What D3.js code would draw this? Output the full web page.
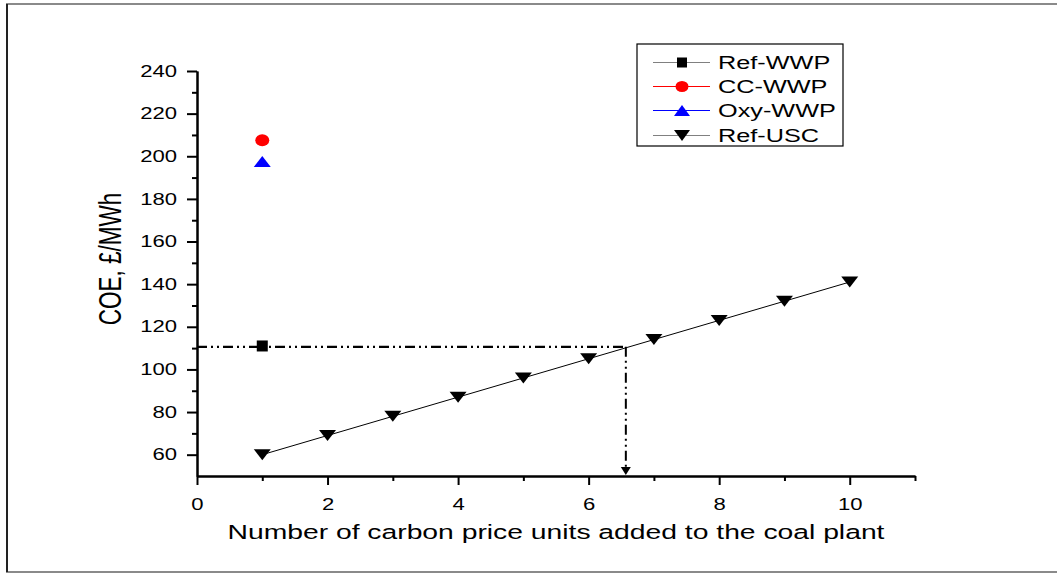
<!DOCTYPE html>
<html>
<head>
<meta charset="utf-8">
<script src="https://cdn.jsdelivr.net/npm/d3@7"></script>
<style>
  body { margin: 0; background: #fff; }
  text { font-family: "Liberation Sans", Arial, sans-serif; fill: #000; }
</style>
</head>
<body>
<div id="chart"></div>
<script>
// data
var units = [1, 2, 3, 4, 5, 6, 7, 8, 9, 10];
var refUSC = [60, 69, 78, 87, 96, 105, 114, 123, 132, 141];
var refWWP = [{x: 1, y: 111}];
var ccWWP = [{x: 1, y: 207.5}];
var oxyWWP = [{x: 1, y: 197.5}];
var crossing = {x: 6.57, y: 110.6};
var legendNames = ["Ref-WWP", "CC-WWP", "Oxy-WWP", "Ref-USC"];
var xTicks = [0, 2, 4, 6, 8, 10];
var yTicks = [60, 80, 100, 120, 140, 160, 180, 200, 220, 240];

var svgWidth = 1057;
var svgHeight = 574;
var stretch = 1.38; // the original picture is widened, text included

var svg = d3.select("#chart")
  .append("svg")
  .attr("width", svgWidth)
  .attr("height", svgHeight);

// page frame
svg.append("rect")
  .attr("x", 7).attr("y", 4)
  .attr("width", 1060).attr("height", 568)
  .attr("fill", "none")
  .attr("stroke", "#8a8a8a")
  .attr("stroke-width", 2);
svg.append("line")
  .attr("x1", 7).attr("x2", 7).attr("y1", 4).attr("y2", 572)
  .attr("stroke", "#222").attr("stroke-width", 2);

// scales
var x = d3.scaleLinear().domain([0, 11]).range([197, 915]);
var y = d3.scaleLinear().domain([50, 240]).range([476, 71]);

// axes: major + minor ticks
var xAxis = svg.append("g").attr("transform", "translate(0,476)");
xAxis.call(d3.axisBottom(x).tickValues(xTicks).tickSize(9).tickSizeOuter(0).tickFormat(d3.format("d")));
xAxis.append("g").call(d3.axisBottom(x).tickValues([1, 3, 5, 7, 9, 11]).tickSize(5).tickSizeOuter(0).tickFormat(""));

var yAxis = svg.append("g").attr("transform", "translate(197,0)");
yAxis.call(d3.axisLeft(y).tickValues(yTicks).tickSize(10).tickSizeOuter(0).tickFormat(d3.format("d")));
yAxis.append("g").call(d3.axisLeft(y).tickValues([70, 90, 110, 130, 150, 170, 190, 210, 230]).tickSize(5).tickSizeOuter(0).tickFormat(""));

svg.selectAll(".domain").attr("stroke", "#000").attr("stroke-width", 2);
svg.selectAll(".tick line").attr("stroke", "#000").attr("stroke-width", 2);
svg.selectAll(".tick text")
  .style("font-size", "16px")
  .style("font-family", "'Liberation Sans', Arial, sans-serif")
  .attr("transform", "scale(" + stretch + ",1)");
xAxis.selectAll(".tick text").attr("dy", "1.35em");
yAxis.selectAll(".tick text").attr("x", -14.5);
xAxis.select("g").select(".domain").remove();
yAxis.select("g").select(".domain").remove();

// axis titles
svg.append("text")
  .attr("transform", "translate(556,539) scale(" + stretch + ",1)")
  .attr("text-anchor", "middle")
  .style("font-size", "20.5px")
  .text("Number of carbon price units added to the coal plant");

svg.append("text")
  .attr("transform", "translate(121,259) scale(" + stretch + ",1) rotate(-90)")
  .attr("text-anchor", "middle")
  .style("font-size", "22.5px")
  .text("COE, \u00a3/MWh");

// dash-dot-dot guide lines
var guide = "10,4,2,4,2,4";
svg.append("line")
  .attr("x1", x(0)).attr("x2", x(crossing.x))
  .attr("y1", y(crossing.y)).attr("y2", y(crossing.y))
  .attr("stroke", "#000").attr("stroke-width", 2.2)
  .attr("stroke-dasharray", guide);
svg.append("line")
  .attr("x1", x(crossing.x)).attr("x2", x(crossing.x))
  .attr("y1", y(crossing.y)).attr("y2", y(50) - 6)
  .attr("stroke", "#000").attr("stroke-width", 2)
  .attr("stroke-dasharray", guide);
svg.append("path")
  .attr("d", "M" + (x(crossing.x) - 5) + "," + (y(50) - 9) + "L" + (x(crossing.x) + 5) + "," + (y(50) - 9) + "L" + x(crossing.x) + "," + (y(50) - 1) + "Z")
  .attr("fill", "#000");

// Ref-USC line
var line = d3.line().x((d, i) => x(units[i])).y(d => y(d));
svg.append("path")
  .datum(refUSC)
  .attr("d", line)
  .attr("fill", "none")
  .attr("stroke", "#000")
  .attr("stroke-width", 1);

function downTri(w, h) { return "M" + (-w / 2) + "," + (-h / 2) + "L" + (w / 2) + "," + (-h / 2) + "L0," + (h / 2) + "Z"; }
function upTri(w, h) { return "M" + (-w / 2) + "," + (h / 2) + "L" + (w / 2) + "," + (h / 2) + "L0," + (-h / 2) + "Z"; }

svg.selectAll(".usc")
  .data(refUSC)
  .enter()
  .append("path")
  .attr("class", "usc")
  .attr("transform", (d, i) => "translate(" + x(units[i]) + "," + y(d) + ")")
  .attr("d", downTri(17, 11))
  .attr("fill", "#000");

svg.selectAll(".wwp")
  .data(refWWP)
  .enter()
  .append("rect")
  .attr("x", d => x(d.x) - 5.5)
  .attr("y", d => y(d.y) - 5.5)
  .attr("width", 11).attr("height", 11)
  .attr("fill", "#000");

svg.selectAll(".cc")
  .data(ccWWP)
  .enter()
  .append("ellipse")
  .attr("cx", d => x(d.x))
  .attr("cy", d => y(d.y))
  .attr("rx", 7).attr("ry", 6)
  .attr("fill", "#f00");

svg.selectAll(".oxy")
  .data(oxyWWP)
  .enter()
  .append("path")
  .attr("transform", d => "translate(" + x(d.x) + "," + y(d.y) + ")")
  .attr("d", upTri(17, 11))
  .attr("fill", "#00f");

// legend
var legend = svg.append("g");
legend.append("rect")
  .attr("x", 637).attr("y", 44)
  .attr("width", 206).attr("height", 102)
  .attr("fill", "#fff")
  .attr("stroke", "#000")
  .attr("stroke-width", 1.2);

var lineColors = ["#808080", "#ff0000", "#0000ff", "#808080"];
var rowY = [62.5, 86.5, 110.5, 135.5];
legendNames.forEach(function(name, i) {
  var g = legend.append("g").attr("transform", "translate(0," + rowY[i] + ")");
  g.append("line")
    .attr("x1", 653).attr("x2", 710)
    .attr("stroke", lineColors[i]).attr("stroke-width", 1.2);
  var mx = 682;
  if (i === 0) {
    g.append("rect").attr("x", mx - 5).attr("y", -5).attr("width", 10).attr("height", 10).attr("fill", "#000");
  } else if (i === 1) {
    g.append("ellipse").attr("cx", mx).attr("cy", 0).attr("rx", 6.5).attr("ry", 5.5).attr("fill", "#f00");
  } else if (i === 2) {
    g.append("path").attr("transform", "translate(" + mx + ",0)").attr("d", upTri(16, 11)).attr("fill", "#00f");
  } else {
    g.append("path").attr("transform", "translate(" + mx + ",0)").attr("d", downTri(16, 11)).attr("fill", "#000");
  }
  g.append("text")
    .attr("transform", "translate(718,0) scale(1.33,1)")
    .attr("dy", "0.36em")
    .style("font-size", "19px")
    .text(name);
});
</script>
</body>
</html>
